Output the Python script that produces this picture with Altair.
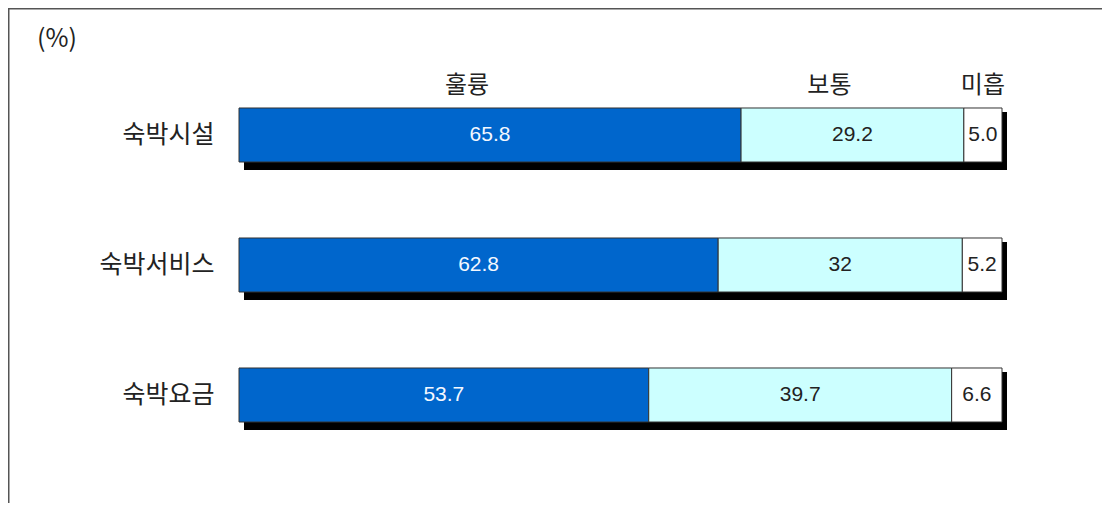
import altair as alt
import pandas as pd

categories = ["숙박시설", "숙박서비스", "숙박요금"]
series = ["훌륭", "보통", "미흡"]
excellent = [65.8, 62.8, 53.7]
average = [29.2, 32.0, 39.7]
poor = [5.0, 5.2, 6.6]
value_text = [["65.8", "29.2", "5.0"], ["62.8", "32", "5.2"], ["53.7", "39.7", "6.6"]]
colors = ["#0066CC", "#CCFFFF", "#FFFFFF"]

rows = []
for i, cat in enumerate(categories):
    vals = [excellent[i], average[i], poor[i]]
    start = 0.0
    for j, s in enumerate(series):
        end = start + vals[j]
        rows.append({"category": cat, "series": s, "value": vals[j],
                     "start": start, "end": end, "mid": (start + end) / 2,
                     "label": value_text[i][j], "order": j})
        start = end
df = pd.DataFrame(rows)
totals = df.groupby("category", sort=False)["end"].max().reset_index()
totals["start"] = 0.0
header = df[df["category"] == categories[0]]

KR = "Noto Sans CJK KR"
NUM = "Liberation Sans"

xscale = alt.Scale(domain=[0, 100], nice=False, zero=True)
y_enc = alt.Y("category:N", sort=categories,
              scale=alt.Scale(paddingInner=0.5846, paddingOuter=0.2923),
              axis=alt.Axis(title=None, domain=False, ticks=False, grid=False,
                            labelPadding=25, labelFontSize=25, labelFont=KR,
                            labelColor="#222222", labelFontWeight="normal"))

frame = alt.Chart(pd.DataFrame({"a": [0]})).mark_rect(
    fillOpacity=0, stroke="#555555", strokeWidth=1.5
).encode(x=alt.value(-230.25), x2=alt.value(900), y=alt.value(-61.25), y2=alt.value(500))

shadow = alt.Chart(totals).mark_bar(color="black", height=58, xOffset=5, x2Offset=5, yOffset=6).encode(
    x=alt.X("start:Q", scale=xscale, axis=None), x2="end:Q", y=y_enc)

bars = alt.Chart(df).mark_bar(stroke="#333333", strokeWidth=1).encode(
    x=alt.X("start:Q", scale=xscale, axis=None), x2="end:Q", y=y_enc,
    color=alt.Color("series:N", scale=alt.Scale(domain=series, range=colors), legend=None))

values = alt.Chart(df).mark_text(font=NUM, fontSize=21, baseline="middle").encode(
    x=alt.X("mid:Q", scale=xscale, axis=None), y=y_enc, text="label:N",
    color=alt.condition(alt.datum.series == series[0], alt.value("#F4F8FF"), alt.value("#222222")))

head_a = alt.Chart(header).transform_filter(alt.datum.series != series[2]).mark_text(
    font=KR, fontSize=24, baseline="middle", dx=-23, yOffset=-49, color="#222222").encode(
    x=alt.X("mid:Q", scale=xscale, axis=None), y=y_enc, text="series:N")
head_b = alt.Chart(header).transform_filter(alt.datum.series == series[2]).mark_text(
    font=KR, fontSize=24, baseline="middle", yOffset=-49, color="#222222").encode(
    x=alt.X("mid:Q", scale=xscale, axis=None), y=y_enc, text="series:N")

unit = alt.Chart(pd.DataFrame({"t": ["(%)"]})).mark_text(
    font=KR, fontSize=25, align="left", baseline="middle", color="#222222").encode(
    x=alt.value(-202), y=alt.value(-31), text="t:N")

chart = alt.layer(frame, shadow, bars, values, head_a, head_b, unit).properties(
    width=763, height=390,
    padding={"left": 231, "top": 62, "right": 100, "bottom": 43},
    autosize=alt.AutoSizeParams(type="none"),
).configure(background="white", view=alt.ViewConfig(stroke=None))

chart.save("out.html", embed_options={"renderer": "svg", "actions": False})
